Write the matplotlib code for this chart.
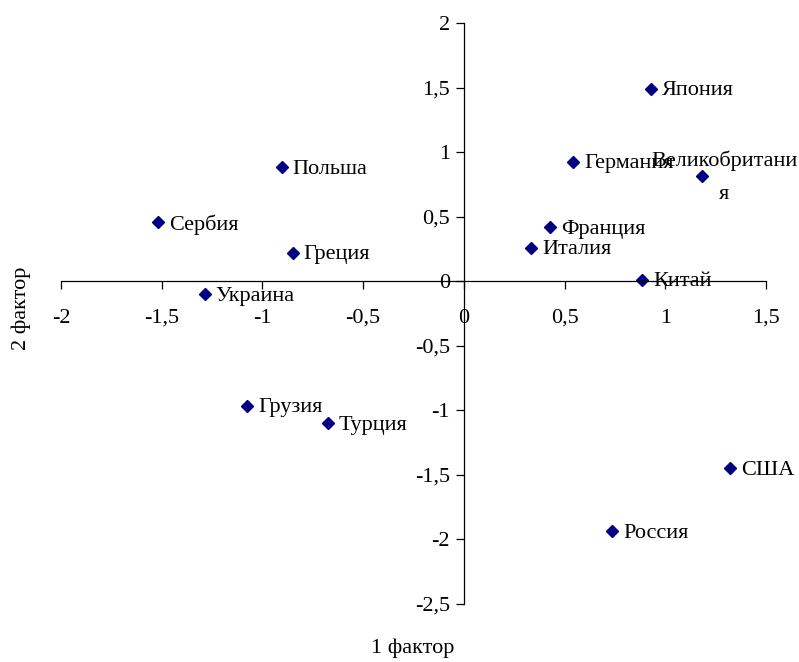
import matplotlib
matplotlib.use("Agg")
import matplotlib.pyplot as plt
from matplotlib.ticker import FuncFormatter, MultipleLocator

# factor scores
countries = ["Польша", "Сербия", "Греция", "Украина", "Япония", "Германия",
             "Великобритани\nя", "Франция", "Италия", "Китай", "Грузия",
             "Турция", "США", "Россия"]
factor1 = [-0.905, -1.52, -0.85, -1.287, 0.927, 0.541, 1.18, 0.426, 0.333,
           0.886, -1.076, -0.675, 1.32, 0.736]
factor2 = [0.885, 0.455, 0.222, -0.10, 1.49, 0.924, 0.816, 0.42, 0.261,
           0.013, -0.963, -1.10, -1.446, -1.937]

plt.rcParams['font.family'] = ['Liberation Serif', 'DejaVu Serif']
fs = 16

fig = plt.figure(figsize=(7.99, 6.62), dpi=100)
ax = fig.add_axes([0.0763, 0.0876, 0.8824, 0.8777])

ax.plot(factor1, factor2, linestyle='none', marker='D', markersize=6,
        color='#000080')

for name, x, y in zip(countries, factor1, factor2):
    if '\n' in name:
        # wrapped label, centred a little right of the point
        ax.annotate(name, (x, y), xytext=(16.5, -1), textcoords='offset points',
                    ha='center', va='center', fontsize=fs, multialignment='center',
                    linespacing=1.95)
    else:
        ax.annotate(name, (x, y), xytext=(8, -1.5), textcoords='offset points',
                    ha='left', va='center', fontsize=fs)

ax.set_xlim(-2, 1.5)
ax.set_ylim(-2.5, 2)
ax.xaxis.set_major_locator(MultipleLocator(0.5))
ax.yaxis.set_major_locator(MultipleLocator(0.5))

fmt = FuncFormatter(lambda v, p: ('%g' % v).replace('.', ','))
ax.xaxis.set_major_formatter(fmt)
ax.yaxis.set_major_formatter(fmt)

ax.spines['left'].set_position(('data', 0))
ax.spines['bottom'].set_position(('data', 0))
ax.spines['top'].set_visible(False)
ax.spines['right'].set_visible(False)
for s in ('left', 'bottom'):
    ax.spines[s].set_linewidth(0.9)

ax.tick_params(axis='x', direction='out', length=6, width=0.9, pad=14, labelsize=fs)
ax.tick_params(axis='y', direction='out', length=6, width=0.9, pad=4, labelsize=fs)

fig.text(0.516, 0.021, "1 фактор", ha='center', va='center', fontsize=fs)
fig.text(0.026, 0.535, "2 фактор", ha='center', va='center', fontsize=fs,
         rotation=90)

fig.savefig('out.png', dpi=100)
